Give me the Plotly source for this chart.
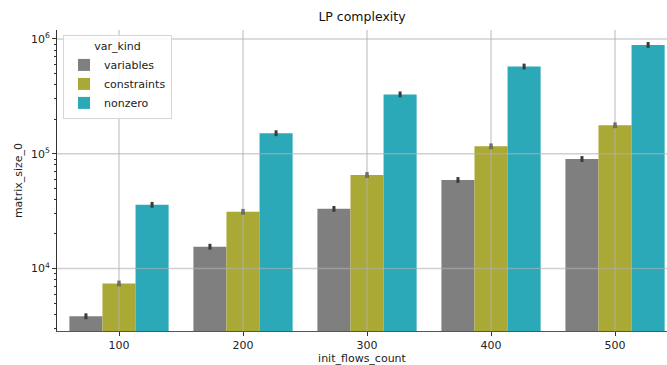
import plotly.graph_objects as go

categories = ["100", "200", "300", "400", "500"]
series_names = ["variables", "constraints", "nonzero"]
variables = [3840, 15500, 33100, 59100, 90000]
constraints = [7410, 31200, 65300, 116000, 177000]
nonzero = [35900, 151000, 329000, 575000, 887000]
rel_err = [0.06, 0.06, 0.06]  # approximate CI half-width
colors = ["#7f7f7f", "#aaa935", "#2ba9b8"]
y_ticks = [1e4, 1e5, 1e6]
y_ticktext = ["10<sup>4</sup>", "10<sup>5</sup>", "10<sup>6</sup>"]

font = "DejaVu Sans"
fig = go.Figure()
for name, vals, col, re_ in zip(series_names, [variables, constraints, nonzero], colors, rel_err):
    fig.add_trace(go.Bar(
        x=categories, y=vals, name=name,
        marker=dict(color=col, line=dict(width=0)),
        error_y=dict(type="data", array=[v * re_ for v in vals],
                     arrayminus=[v * re_ / (1 + re_) for v in vals],
                     thickness=3, width=0, color="#3a3a3a"),
    ))

grid_col = "rgba(176,176,176,0.6)"
shapes = []
for i, _ in enumerate(categories):
    shapes.append(dict(type="line", xref="x", yref="y domain", x0=i, x1=i, y0=0, y1=1,
                       line=dict(color=grid_col, width=1.5), layer="above"))
for t in y_ticks:
    shapes.append(dict(type="line", xref="x domain", yref="y", x0=0, x1=1,
                       y0=t, y1=t,
                       line=dict(color=grid_col, width=1.5), layer="above"))

fig.update_layout(
    width=667, height=365,
    margin=dict(l=57, r=0, t=30, b=34),
    paper_bgcolor="white", plot_bgcolor="white",
    font=dict(family=font, size=11, color="#222"),
    title=dict(text="LP complexity", x=0.5 + 57 / 667 / 2, xanchor="center",
               y=1 - 17 / 365, yanchor="middle", font=dict(size=12.5, color="#111")),
    barmode="group", bargap=0.2, bargroupgap=0,
    shapes=shapes,
    showlegend=True,
    legend=dict(x=0.0098, y=0.983, xanchor="left", yanchor="top",
                bgcolor="rgba(255,255,255,0.85)", bordercolor="#d6d6d6", borderwidth=1,
                title=dict(text="var_kind", side="top center", font=dict(size=11)),
                font=dict(size=11), itemwidth=30, tracegroupgap=0),
)
fig.update_xaxes(
    type="category", range=[-0.5, 4.419],
    showgrid=False, showline=True, linecolor="#555", linewidth=1.2, mirror=False,
    ticks="outside", ticklen=4, tickcolor="#333",
    title=dict(text="init_flows_count", font=dict(size=11), standoff=4),
    tickfont=dict(size=11),
)
fig.update_yaxes(
    type="log", range=[3.456, 6.078],
    tickvals=y_ticks, ticktext=y_ticktext,
    showgrid=False, showline=True, linecolor="#333", linewidth=1, mirror=True,
    ticks="outside", ticklen=4, tickcolor="#333",
    minor=dict(ticks="outside", ticklen=2, dtick="D1", tickcolor="#333", showgrid=False),
    title=dict(text="matrix_size_0", font=dict(size=11), standoff=6),
    tickfont=dict(size=11),
    zeroline=False,
)
fig.write_html("out.html")
